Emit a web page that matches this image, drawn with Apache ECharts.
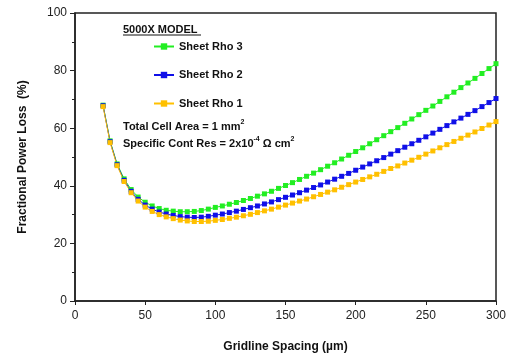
<!DOCTYPE html>
<html>
<head>
<meta charset="utf-8">
<script src="https://cdn.jsdelivr.net/npm/echarts@6/dist/echarts.min.js"></script>
<style>
  html, body { margin: 0; padding: 0; background: #fff; }
  #chart { width: 511px; height: 360px; }
</style>
</head>
<body>
<div id="chart"></div>
<script>
// gridline spacing (um), 20..300 in steps of 5
const spacing = [
  20, 25, 30, 35, 40, 45, 50, 55, 60, 65, 70, 75, 80, 85, 90, 95, 100,
  105, 110, 115, 120, 125, 130, 135, 140, 145, 150, 155, 160, 165, 170, 175, 180,
  185, 190, 195, 200, 205, 210, 215, 220, 225, 230, 235, 240, 245, 250, 255, 260,
  265, 270, 275, 280, 285, 290, 295, 300
];

// fractional power loss (%)
const rho3 = [
  68.0, 55.6, 47.6, 42.4, 38.7, 36.1, 34.3, 33.0, 32.1, 31.5, 31.2, 31.0, 31.0, 31.1, 31.4, 31.9, 32.5,
  33.0, 33.6, 34.2, 34.9, 35.6, 36.4, 37.2, 38.1, 39.1, 40.1, 41.1, 42.2, 43.3, 44.4, 45.6, 46.8,
  48.0, 49.3, 50.6, 51.9, 53.2, 54.6, 56.0, 57.4, 58.8, 60.2, 61.7, 63.2, 64.7, 66.2, 67.7, 69.3,
  70.9, 72.5, 74.1, 75.7, 77.3, 79.0, 80.7, 82.4
];
const rho2 = [
  67.8, 55.3, 47.3, 41.9, 38.1, 35.3, 33.3, 31.9, 30.9, 30.2, 29.7, 29.3, 29.1, 29.0, 29.1, 29.4, 29.8,
  30.2, 30.7, 31.2, 31.8, 32.4, 33.0, 33.7, 34.4, 35.2, 36.0, 36.8, 37.6, 38.5, 39.4, 40.3, 41.3,
  42.3, 43.3, 44.3, 45.4, 46.5, 47.6, 48.7, 49.8, 51.0, 52.2, 53.4, 54.6, 55.8, 57.0, 58.3, 59.6,
  60.9, 62.2, 63.5, 64.8, 66.1, 67.5, 68.9, 70.3
];
const rho1 = [
  67.5, 55.0, 47.0, 41.5, 37.6, 34.7, 32.6, 31.1, 30.0, 29.2, 28.6, 28.1, 27.8, 27.6, 27.6, 27.7, 28.0,
  28.3, 28.7, 29.1, 29.6, 30.1, 30.7, 31.3, 31.9, 32.6, 33.3, 34.0, 34.7, 35.4, 36.2, 37.0, 37.8,
  38.6, 39.5, 40.4, 41.3, 42.2, 43.1, 44.0, 45.0, 46.0, 46.9, 47.9, 48.9, 49.9, 51.0, 52.1, 53.2,
  54.3, 55.4, 56.5, 57.6, 58.7, 59.9, 61.1, 62.3
];

const seriesNames = ["Sheet Rho 3", "Sheet Rho 2", "Sheet Rho 1"];
const seriesColors = ["#22ee22", "#1010e8", "#ffc000"];
const seriesData = [rho3, rho2, rho1];

const chart = echarts.init(document.getElementById("chart"));
const font = "Liberation Sans, Arial, sans-serif";

const series = seriesData.map((vals, i) => ({
  name: seriesNames[i],
  type: "line",
  data: spacing.map((x, j) => [x, vals[j]]),
  symbol: "rect",
  symbolSize: 5,
  showSymbol: true,
  lineStyle: { width: 1, color: seriesColors[i] },
  itemStyle: { color: seriesColors[i] },
  animation: false,
}));

chart.setOption({
  backgroundColor: "#fff",
  textStyle: { fontFamily: font },
  grid: {
    left: 75, right: 15, top: 13, bottom: 59,
    show: true, borderColor: "#222", borderWidth: 1.5,
  },
  legend: {
    data: seriesNames,
    orient: "vertical",
    left: 148, top: 36,
    itemWidth: 20, itemHeight: 8,
    itemGap: 17.5,
    textStyle: { fontSize: 11, fontWeight: "bold", color: "#111", fontFamily: font },
  },
  xAxis: {
    type: "value",
    min: 0, max: 300, interval: 50,
    name: "Gridline Spacing (\u00b5m)",
    nameLocation: "middle",
    nameGap: 40,
    nameTextStyle: { fontSize: 12, fontWeight: "bold", color: "#111" },
    axisLine: { lineStyle: { color: "#222", width: 1.5 } },
    axisTick: { length: 4, lineStyle: { color: "#222" } },
    axisLabel: { fontSize: 12, color: "#222", margin: 9 },
    splitLine: { show: false },
  },
  yAxis: {
    type: "value",
    min: 0, max: 100, interval: 20,
    name: "Fractional Power Loss  (%)",
    nameLocation: "middle",
    nameGap: 46,
    nameTextStyle: { fontSize: 12, fontWeight: "bold", color: "#111" },
    axisLine: { lineStyle: { color: "#222", width: 1.5 } },
    axisTick: { length: 5, lineStyle: { color: "#222" } },
    minorTick: { show: true, splitNumber: 2, length: 3, lineStyle: { color: "#222" } },
    axisLabel: { fontSize: 12, color: "#222", margin: 8 },
    splitLine: { show: false },
  },
  graphic: [
    {
      type: "text", left: 123, top: 24,
      style: { text: "5000X MODEL", font: "bold 11px " + font, fill: "#111" },
    },
    {
      type: "line", shape: { x1: 123, y1: 35, x2: 201, y2: 35 },
      style: { stroke: "#111", lineWidth: 1 },
    },
    {
      type: "text", left: 123, top: 119,
      style: {
        text: "{a|Total Cell Area = 1 mm}{s|2}",
        rich: {
          a: { font: "bold 11px " + font, fill: "#111", lineHeight: 15 },
          s: { font: "bold 7px " + font, fill: "#111", verticalAlign: "top", lineHeight: 15, padding: [0, 0, 6, 0] },
        },
      },
    },
    {
      type: "text", left: 123, top: 136,
      style: {
        text: "{a|Specific Cont Res = 2x10}{s|-4}{a| \u03a9 cm}{s|2}",
        rich: {
          a: { font: "bold 11px " + font, fill: "#111", lineHeight: 15 },
          s: { font: "bold 7px " + font, fill: "#111", verticalAlign: "top", lineHeight: 15, padding: [0, 0, 6, 0] },
        },
      },
    },
  ],
  series,
});
</script>
</body>
</html>
